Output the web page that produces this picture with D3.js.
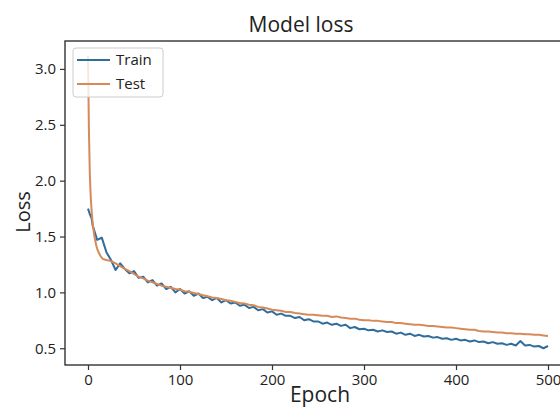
<!DOCTYPE html>
<html><head><meta charset="utf-8">
<script src="https://cdn.jsdelivr.net/npm/d3@7"></script>
<style>body{margin:0;background:#fff}svg{display:block}text{font-family:"Open Sans",sans-serif;fill:#222}</style>
</head><body><div id="chart"></div>
<script>
const title = "Model loss";
const xLabel = "Epoch";
const yLabel = "Loss";
const seriesNames = ["Train", "Test"];
const xTicks = [0, 100, 200, 300, 400, 500];
const yTicks = [0.5, 1.0, 1.5, 2.0, 2.5, 3.0];

const trainEpochs = [0,2,4].concat(d3.range(5, 501, 5));
const trainLoss = [1.75,1.70,1.66,
 1.60,1.47,1.49,1.36,1.29,1.20,1.26,1.21,1.17,1.19,
 1.13,1.14,1.09,1.11,1.06,1.08,1.03,1.05,1.00,1.03,
 0.99,1.01,0.97,0.99,0.95,0.96,0.93,0.95,0.91,0.93,
 0.90,0.91,0.88,0.89,0.86,0.87,0.84,0.85,0.82,0.83,
 0.80,0.81,0.79,0.79,0.77,0.78,0.75,0.76,0.74,0.74,
 0.72,0.73,0.71,0.72,0.70,0.71,0.68,0.69,0.67,0.675,
 0.66,0.665,0.65,0.66,0.645,0.65,0.63,0.64,0.62,0.63,
 0.61,0.62,0.605,0.61,0.595,0.60,0.585,0.59,0.575,0.585,
 0.57,0.575,0.56,0.57,0.555,0.56,0.545,0.555,0.54,0.545,
 0.53,0.54,0.525,0.565,0.525,0.53,0.515,0.52,0.50,0.52];

const testEpochs = [0,1,2,3,4,5,6,7,8,9,10,12,14,16,18,20].concat(d3.range(25, 501, 5));
const testLoss = [3.12,2.45,2.05,1.85,1.72,1.63,1.56,1.50,1.46,1.42,1.39,1.35,1.32,1.30,1.295,1.29,
 1.28,1.26,1.235,1.21,1.19,1.165,1.14,1.125,1.105,1.09,1.075,1.06,1.05,1.04,1.03,1.025,
 1.01,1.005,0.995,0.985,0.975,0.965,0.955,0.95,0.94,0.93,0.925,0.915,0.905,0.90,0.89,0.885,
 0.87,0.865,0.855,0.845,0.84,0.835,0.825,0.825,0.815,0.81,0.805,0.80,0.80,0.795,0.79,0.79,
 0.78,0.785,0.775,0.77,0.765,0.765,0.755,0.75,0.75,0.745,0.745,0.74,0.735,0.735,0.725,0.725,
 0.72,0.715,0.71,0.71,0.705,0.70,0.70,0.695,0.69,0.685,0.685,0.68,0.675,0.67,0.665,0.665,
 0.655,0.65,0.65,0.645,0.64,0.64,0.635,0.635,0.63,0.63,0.625,0.625,0.62,0.62,0.615,0.61];

const colors = ["#2f6e9c", "#d68a5a"];

const W = 560, H = 409;
const m = {left: 65, top: 41, right: 571, bottom: 365};
const svg = d3.select("#chart").append("svg").attr("width", W).attr("height", H);

const x = d3.scaleLinear().domain([-25, 525]).range([m.left, m.right]);
const y = d3.scaleLinear().domain([0.35, 3.25]).range([m.bottom, m.top]);

svg.append("defs").append("clipPath").attr("id", "clip")
  .append("rect").attr("x", m.left).attr("y", m.top).attr("width", m.right - m.left).attr("height", m.bottom - m.top);

const line = d3.line().x(d => x(d[0])).y(d => y(d[1]));
const data = [
  d3.zip(trainEpochs, trainLoss),
  d3.zip(testEpochs, testLoss)
];
const g = svg.append("g").attr("clip-path", "url(#clip)");
data.forEach((d, i) => {
  g.append("path").datum(d).attr("d", line)
    .attr("fill", "none").attr("stroke", colors[i]).attr("stroke-width", 2).attr("stroke-linejoin", "round");
});

const xAxis = svg.append("g").attr("transform", `translate(0,${m.bottom})`)
  .call(d3.axisBottom(x).tickValues(xTicks).tickFormat(d3.format("d")).tickSizeOuter(0).tickSize(5).tickPadding(4));
const yAxis = svg.append("g").attr("transform", `translate(${m.left},0)`)
  .call(d3.axisLeft(y).tickValues(yTicks).tickFormat(d3.format(".1f")).tickSizeOuter(0).tickSize(5).tickPadding(4));
[xAxis, yAxis].forEach(a => {
  a.select(".domain").remove();
  a.selectAll("line").attr("stroke", "#333").attr("stroke-width", 1.2);
  a.selectAll("text").style("font-size", "15px").attr("fill", "#1a1a1a");
});

svg.append("rect").attr("x", m.left).attr("y", m.top).attr("width", m.right - m.left).attr("height", m.bottom - m.top)
  .attr("fill", "none").attr("stroke", "#333").attr("stroke-width", 1.4);

svg.append("text").attr("x", 301).attr("y", 32).attr("text-anchor", "middle").style("font-size", "21px").text(title);
svg.append("text").attr("x", 320).attr("y", 402).attr("text-anchor", "middle").style("font-size", "21px").text(xLabel);
svg.append("text").attr("transform", "translate(30,212) rotate(-90)").attr("text-anchor", "middle").style("font-size", "20px").text(yLabel);

const lg = svg.append("g");
lg.append("rect").attr("x", 73).attr("y", 48).attr("width", 90).attr("height", 49).attr("rx", 3)
  .attr("fill", "#fff").attr("fill-opacity", 0.8).attr("stroke", "#ccc");
seriesNames.forEach((n, i) => {
  const yy = 60 + i * 24;
  lg.append("line").attr("x1", 77).attr("x2", 110).attr("y1", yy).attr("y2", yy)
    .attr("stroke", colors[i]).attr("stroke-width", 2);
  lg.append("text").attr("x", 116).attr("y", yy + 5).style("font-size", "15px").text(n);
});
</script></body></html>
